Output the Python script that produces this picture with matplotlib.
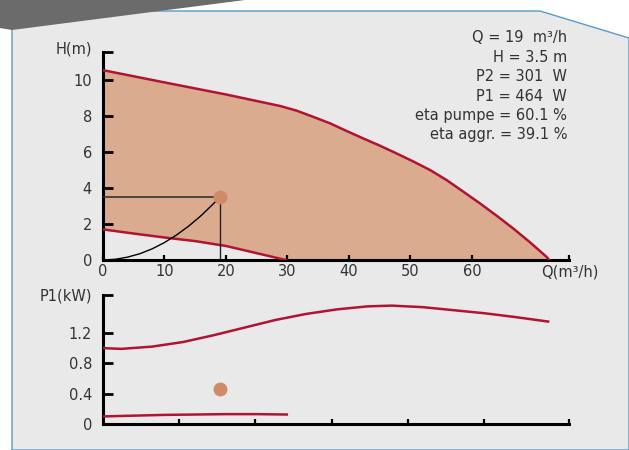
import numpy as np
import matplotlib
matplotlib.use("Agg")
import matplotlib.pyplot as plt
from matplotlib.patches import Polygon

# Pump curve data
q_max_speed = [0, 10, 20, 28.8, 31.5, 34, 36.9, 39.5, 42.3, 45, 47.7, 50.5, 53.2,
               55.9, 58.6, 61.3, 64, 66.7, 69.4, 72.1, 72.6]
h_max_speed = [10.55, 9.87, 9.2, 8.56, 8.3, 7.98, 7.6, 7.19, 6.76, 6.36, 5.93, 5.47, 5.0,
               4.44, 3.8, 3.15, 2.47, 1.76, 1.0, 0.19, 0.0]

q_min_speed = [0, 5, 10, 15, 20, 24, 27, 29.7]
h_min_speed = [1.7, 1.47, 1.25, 1.05, 0.78, 0.46, 0.22, 0.0]

q_system = [0, 2, 4, 6, 8, 10, 12, 14, 16, 18, 19]
h_system = [0, 0.04, 0.16, 0.35, 0.62, 0.97, 1.40, 1.90, 2.48, 3.14, 3.5]

# P1 curves
q_p1_max = [0, 3, 8, 13, 18, 23, 28, 33, 38, 43, 47, 52, 57, 62, 67, 72.4]
p1_max = [1.0, 0.99, 1.02, 1.08, 1.17, 1.27, 1.37, 1.45, 1.51, 1.55, 1.56, 1.54, 1.5, 1.46, 1.41, 1.35]

q_p1_min = [0, 5, 10, 15, 20, 25, 29.9]
p1_min = [0.10, 0.11, 0.12, 0.125, 0.13, 0.13, 0.125]

# Operating point
op_q = 19
op_h = 3.5
op_p1 = 0.464

info_lines = ["Q = 19  m³/h", "H = 3.5 m", "P2 = 301  W", "P1 = 464  W",
              "eta pumpe = 60.1 %", "eta aggr. = 39.1 %"]

x_ticks_top = [0, 10, 20, 30, 40, 50, 60]
y_ticks_top = [0, 2, 4, 6, 8, 10]
y_ticks_bot = [0, 0.4, 0.8, 1.2]

RED = "#B01432"
FILL = "#DBAB8F"
DOT = "#D08A68"
TXT = "#333333"
W, H = 629, 450

plt.rcParams["font.family"] = ["DejaVu Sans"]

fig = plt.figure(figsize=(W / 100, H / 100), dpi=100)
fig.patch.set_facecolor("white")


def px(points):
    return [(x / W, 1 - y / H) for x, y in points]


# background panel and the dark wedge on top
panel = Polygon(px([(12, 450), (12, 11), (540, 11), (629, 38), (629, 450)]),
                closed=True, transform=fig.transFigure, facecolor="#E9E9E9",
                edgecolor="#5A9AC8", linewidth=1.0, zorder=-3)
fig.patches.append(panel)
wedge = Polygon(px([(0, 0), (245, 0), (12, 30), (0, 28)]), closed=True,
                transform=fig.transFigure, facecolor="#6B6B6B",
                edgecolor="none", zorder=-2)
fig.patches.append(wedge)

xmax = 75.8
ax1 = fig.add_axes([103 / W, 1 - 260 / H, 466 / W, 208 / H])
ax2 = fig.add_axes([103 / W, 1 - 424 / H, 466 / W, 129 / H])

# --- H(Q) chart ---
ax1.fill(np.r_[q_max_speed, q_min_speed[::-1]], np.r_[h_max_speed, h_min_speed[::-1]],
         color=FILL, linewidth=0, zorder=1)
ax1.plot(q_max_speed, h_max_speed, color=RED, lw=1.8, zorder=3)
ax1.plot(q_min_speed, h_min_speed, color=RED, lw=1.8, zorder=3)
ax1.plot(q_system, h_system, color="black", lw=1.0, zorder=4)
ax1.plot([0, op_q], [op_h, op_h], color="#333333", lw=1.2, zorder=4)
ax1.plot([op_q, op_q], [0, op_h], color="#222222", lw=1.0, zorder=4)
ax1.plot([op_q], [op_h], "o", color=DOT, ms=9, zorder=5)

ax1.set_xlim(0, xmax)
ax1.set_ylim(0, 11.56)
ax1.set_xticks(x_ticks_top + [xmax])
ax1.set_xticklabels([str(t) for t in x_ticks_top] + [""])
ax1.set_yticks(y_ticks_top + [11.56])
ax1.set_yticklabels([str(t) for t in y_ticks_top] + [""])

# --- P1(Q) chart ---
ax2.plot(q_p1_max, p1_max, color=RED, lw=1.8, zorder=3)
ax2.plot(q_p1_min, p1_min, color=RED, lw=1.8, zorder=3)
ax2.plot([op_q], [op_p1], "o", color=DOT, ms=9, zorder=5)
ax2.set_xlim(0, xmax)
ax2.set_ylim(0, 1.7)
ax2.set_xticks([12.4, 24.8, 37.2, 49.6, 62.0, xmax])
ax2.set_xticklabels([])
ax2.set_yticks(y_ticks_bot + [1.7])
ax2.set_yticklabels(["0", "0.4", "0.8", "1.2", ""])

for ax in (ax1, ax2):
    ax.set_facecolor("none")
    for s in ("top", "right"):
        ax.spines[s].set_visible(False)
    for s in ("left", "bottom"):
        ax.spines[s].set_linewidth(2.2)
        ax.spines[s].set_color("black")
    ax.tick_params(axis="y", direction="in", length=7, width=2.0, pad=8,
                   labelsize=10.5, labelcolor=TXT)
    ax.tick_params(axis="x", direction="in", length=3.5, width=1.6, pad=3,
                   labelsize=10.5, labelcolor=TXT)

fig.text(92 / W, 1 - 49 / H, "H(m)", ha="right", va="center", fontsize=10.5, color=TXT)
fig.text(92 / W, 1 - 296 / H, "P1(kW)", ha="right", va="center", fontsize=10.5, color=TXT)
fig.text(570 / W, 1 - 272 / H, "Q(m³/h)", ha="center", va="center", fontsize=10.5, color=TXT)

for i, line in enumerate(info_lines):
    fig.text(567 / W, 1 - (38 + i * 19.4) / H, line, ha="right", va="center",
             fontsize=10.5, color=TXT)

fig.savefig("out.png", dpi=100, facecolor=fig.get_facecolor())
